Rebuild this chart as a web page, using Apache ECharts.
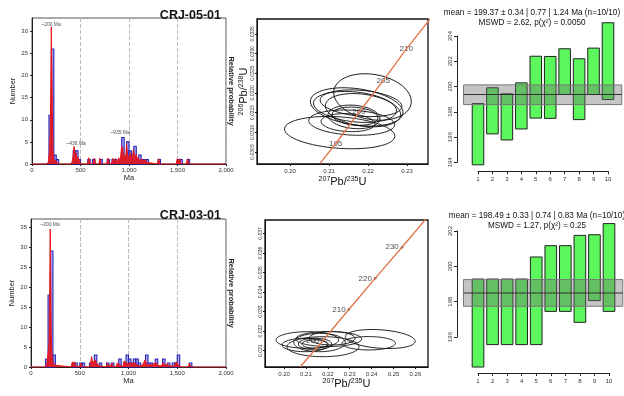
<!DOCTYPE html>
<html>
<head>
<meta charset="utf-8">
<script src="https://cdn.jsdelivr.net/npm/echarts@6/dist/echarts.min.js"></script>
<style>
  html, body { margin: 0; padding: 0; background: #fff; }
  #main { width: 624px; height: 396px; }
</style>
</head>
<body>
<div id="main"></div>
<script>
// ---- histogram data (Ma bins, 25 Ma wide) ----
var binWidth = 25;
var histTopBins = [[175,11],[200,26],[225,2],[250,1],[425,3],[450,3],[475,1],[575,1],[625,1],[700,1],[775,1],[825,1],[850,1],[900,1],[925,6],[950,1],[975,5],[1000,3],[1025,1],[1050,4],[1075,1],[1100,2],[1125,1],[1150,1],[1175,1],[1300,1],[1500,1],[1525,1],[1600,1]];
var histBotBins = [[150,2],[175,18],[200,29],[225,3],[425,1],[450,1],[500,1],[525,1],[600,1],[650,3],[700,1],[775,1],[825,1],[900,2],[950,1],[975,3],[1000,2],[1025,1],[1050,2],[1075,2],[1100,1],[1175,3],[1200,1],[1225,1],[1275,2],[1350,2],[1400,1],[1450,1],[1475,1],[1500,3],[1625,1]];
// relative probability curves (Ma, value)
var probTop = [[0,0],[150,0],[170,0.5],[180,3],[188,7],[194,18],[199,31],[205,22],[210,12],[216,3],[225,1],[240,1.3],[255,0.5],[270,0],[400,0],[415,0.6],[425,2],[433,4],[440,3],[447,1.5],[455,2.5],[462,1],[475,1.5],[490,0.5],[510,0],[570,0],[585,1.4],[600,0],[630,0],[642,1.3],[655,0],[690,0],[700,1.3],[712,0],[770,0],[783,1.3],[796,0],[820,0],[832,1.3],[845,0],[850,0],[862,1.3],[875,0],[895,1.4],[905,0.5],[915,2],[925,4],[935,3.5],[945,1.5],[955,2],[965,1.2],[975,4.6],[985,2],[995,1.2],[1005,1.5],[1015,2.5],[1025,1],[1035,1.5],[1045,3.2],[1055,2],[1065,1.5],[1075,2.2],[1085,1],[1095,1.5],[1105,0.8],[1115,1.1],[1125,0.5],[1135,1.1],[1150,0.5],[1165,1],[1180,0.4],[1195,0],[1290,0],[1305,1.2],[1318,0],[1485,0],[1498,1.2],[1510,0.4],[1523,1.2],[1536,0],[1590,0],[1605,1.2],[1618,0],[2000,0]];
var probBot = [[0,0],[150,0],[165,1],[175,0.5],[185,6],[192,20],[197,34.5],[203,20],[208,8],[215,3],[222,1.5],[235,0.5],[250,0],[410,0],[425,1.3],[435,0.5],[445,1.3],[458,0.3],[470,0],[500,0],[512,1],[525,0],[600,0],[612,1],[622,2.6],[632,1],[645,1.5],[660,1.8],[672,0.8],[690,1.2],[705,0.3],[720,0],[770,0],[785,0.9],[800,0],[815,0],[830,0.9],[845,0],[870,0],[885,1],[900,1.5],[912,0.5],[940,0],[955,1.5],[970,2],[980,1],[995,1.3],[1005,0.6],[1015,1.2],[1030,0.5],[1045,1.1],[1060,1.4],[1075,0.8],[1085,1.1],[1100,0.3],[1115,0.6],[1130,0.2],[1150,0.8],[1170,1.8],[1185,0.8],[1200,1],[1215,0.5],[1230,0.8],[1250,0.6],[1265,0.3],[1280,1.2],[1300,0.4],[1320,0],[1340,0.3],[1355,1.1],[1370,0.3],[1400,0.8],[1415,0.2],[1440,0.3],[1455,0.8],[1470,0.2],[1490,1.3],[1505,1.2],[1520,0.3],[1545,0],[1610,0],[1625,0.9],[1640,0],[2000,0]];
var peakTop = [['~200 Ma',196,31.6],['~436 Ma',454,4.7],['~935 Ma',907,7.2]];
var peakBot = [['~200 Ma',195,35.7]];

// ---- concordia data ----
var concTopLine = [[0.2077,0.03021],[0.2117,0.03071],[0.2177,0.03151],[0.2239,0.03231],[0.2298,0.03311],[0.2362,0.03391]];
var concTopAges = [[0.2117,0.03071,195],[0.2177,0.03151,200],[0.2239,0.03231,205],[0.2298,0.03311,210]];
var concBotLine = [[0.2074,0.03018],[0.2177,0.03151],[0.2296,0.03311],[0.2416,0.03470],[0.2539,0.03629],[0.2660,0.03790]];
var concBotAges = [[0.2177,0.03151,200],[0.2296,0.03311,210],[0.2416,0.03470,220],[0.2539,0.03629,230]];
// ellipses: x, y, semi-axis x, semi-axis y, tilt (deg, anticlockwise)
var ellTop = [
  [0.21274,0.030992,0.01418,0.000399,4],
  [0.22115,0.031896,0.01005,0.000573,10],
  [0.21710,0.031644,0.01197,0.000462,8],
  [0.21667,0.031644,0.01069,0.000379,6],
  [0.21821,0.031737,0.01051,0.000328,5],
  [0.21872,0.031561,0.00974,0.000404,8],
  [0.21641,0.031391,0.00667,0.000295,5],
  [0.21667,0.031409,0.00590,0.000227,5],
  [0.21582,0.031245,0.01103,0.000316,3],
  [0.21487,0.031245,0.00692,0.000227,3]
];
var ellBot = [
  [0.21064,0.031547,0.01429,0.000425,0],
  [0.21621,0.031419,0.01178,0.000471,0],
  [0.20959,0.031292,0.01050,0.000343,0],
  [0.21781,0.031205,0.01644,0.000512,0],
  [0.21416,0.031343,0.00763,0.000297,0],
  [0.21416,0.031343,0.00594,0.000215,0],
  [0.22192,0.031634,0.01050,0.000343,0],
  [0.24397,0.031598,0.01598,0.000471,4],
  [0.23868,0.031379,0.01219,0.000343,0],
  [0.22041,0.031598,0.01507,0.000384,0]
];

// ---- weighted mean data (Ma) ----
var spotNo = [1,2,3,4,5,6,7,8,9,10];
var wmTopLow  = [193.8,196.25,195.77,196.64,197.5,197.48,199.37,197.38,199.37,198.97];
var wmTopHigh = [198.65,199.9,199.42,200.29,202.4,202.38,202.99,202.2,203.04,205.05];
var wmTopMean = [199.37,198.57,200.13]; // mean, band low, band high
var wmBotLow  = [194.3,195.57,195.57,195.57,195.57,197.45,197.45,196.83,198.06,197.45];
var wmBotHigh = [199.28,199.28,199.28,199.28,200.53,201.17,201.17,201.75,201.79,202.42];
var wmBotMean = [198.49,197.74,199.25];
var bandSpan = [0, 10.95];

var FONT = 'Liberation Sans';

function zip2(a, b, c) {
  return a.map(function (v, i) { return [v, b[i], c[i]]; });
}

function histBar(params, api) {
  var a = api.coord([api.value(0), 0]);
  var b = api.coord([api.value(0) + binWidth, api.value(1)]);
  return {
    type: 'rect',
    shape: { x: a[0], y: b[1], width: b[0] - a[0], height: a[1] - b[1] },
    style: { fill: 'rgba(110,110,250,0.55)', stroke: '#2424b4', lineWidth: 1.1 }
  };
}

function ellipseItem(params, api) {
  var c = api.coord([api.value(0), api.value(1)]);
  var s = api.size([api.value(2), api.value(3)]);
  return {
    type: 'ellipse',
    shape: { cx: 0, cy: 0, rx: s[0], ry: s[1] },
    x: c[0], y: c[1],
    rotation: -api.value(4) * Math.PI / 180,
    style: { fill: 'none', stroke: '#111', lineWidth: 0.9 }
  };
}

function wmBar(params, api) {
  var a = api.coord([api.value(0) - 0.4, api.value(2)]);
  var b = api.coord([api.value(0) + 0.4, api.value(1)]);
  return {
    type: 'rect',
    shape: { x: a[0], y: a[1], width: b[0] - a[0], height: b[1] - a[1] },
    style: { fill: '#5cf75c', stroke: '#222', lineWidth: 1 }
  };
}

function wmBand(params, api) {
  var a = api.coord([api.value(0), api.value(4)]);
  var b = api.coord([api.value(1), api.value(3)]);
  var m = api.coord([api.value(0), api.value(2)]);
  return {
    type: 'group',
    children: [
      { type: 'rect', shape: { x: a[0], y: a[1], width: b[0] - a[0], height: b[1] - a[1] },
        style: { fill: 'rgba(110,110,110,0.4)', stroke: '#777', lineWidth: 1 } },
      { type: 'line', shape: { x1: m[0], y1: m[1], x2: b[0], y2: m[1] },
        style: { stroke: '#333', lineWidth: 1.2 } }
    ]
  };
}

var smallLbl = { fontSize: 6, color: '#333', fontFamily: FONT };
var supRich = {
  s: { fontSize: 7, verticalAlign: 'top', lineHeight: 8, fontFamily: FONT, color: '#111' },
  n: { fontSize: 11, lineHeight: 12, fontFamily: FONT, color: '#111' }
};

function histX(grid) {
  return {
    gridIndex: grid, type: 'value', min: 0, max: 2000, interval: 500,
    name: 'Ma', nameLocation: 'middle', nameGap: 9,
    nameTextStyle: { fontSize: 7.5, color: '#222', fontFamily: FONT },
    axisLine: { lineStyle: { color: '#222' } },
    axisTick: { length: 2, lineStyle: { color: '#222' } },
    axisLabel: Object.assign({ margin: 3 }, smallLbl),
    splitLine: { show: true, lineStyle: { type: 'dashed', color: '#bbb' } }
  };
}
function histY(grid, max) {
  return {
    gridIndex: grid, type: 'value', min: 0, max: max, interval: 5,
    name: 'Number', nameLocation: 'middle', nameGap: 11,
    nameTextStyle: { fontSize: 7.5, color: '#222', fontFamily: FONT },
    axisLine: { show: true, lineStyle: { color: '#222' } },
    axisTick: { show: true, length: 2, lineStyle: { color: '#222' } },
    axisLabel: Object.assign({ margin: 4, showMaxLabel: false }, smallLbl),
    splitLine: { show: false }
  };
}
function probY(grid) {
  return {
    gridIndex: grid, type: 'value', position: 'right', min: 0, max: 1,
    name: 'Relative probability', nameLocation: 'middle', nameGap: 1, nameRotate: -90,
    nameTextStyle: { fontSize: 7.5, fontWeight: 'bold', color: '#222', fontFamily: FONT },
    axisLine: { show: false }, axisTick: { show: false }, axisLabel: { show: false },
    splitLine: { show: false }
  };
}
function concX(grid, min, max, split, gap) {
  return {
    gridIndex: grid, type: 'value', min: min, max: max, splitNumber: split,
    name: '{s|207}{n|Pb/}{s|235}{n|U}', nameLocation: 'middle', nameGap: gap,
    nameTextStyle: { rich: supRich },
    axisLine: { lineStyle: { color: '#111' } },
    axisTick: { length: 2, lineStyle: { color: '#111' } },
    axisLabel: Object.assign({ margin: 4, showMinLabel: false, showMaxLabel: false,
      formatter: function (v) { return v.toFixed(2); } }, smallLbl),
    splitLine: { show: false }
  };
}
function concY(grid, min, max, split, digits, named) {
  return {
    gridIndex: grid, type: 'value', min: min, max: max, splitNumber: split,
    name: named ? '{s|206}{n|Pb/}{s|238}{n|U}' : '', nameLocation: 'middle', nameGap: 5,
    nameTextStyle: { rich: supRich },
    axisLine: { show: true, lineStyle: { color: '#111' } },
    axisTick: { show: true, length: 2, lineStyle: { color: '#111' } },
    axisLabel: { margin: 2, rotate: 90, showMinLabel: false, showMaxLabel: false,
      fontSize: 5, color: '#333', fontFamily: FONT,
      formatter: function (v) { return v.toFixed(digits); } },
    splitLine: { show: false }
  };
}
function wmX(grid, offset) {
  return {
    gridIndex: grid, type: 'value', min: 1, max: 10, interval: 1, offset: offset,
    axisLine: { lineStyle: { color: '#222' } },
    axisTick: { length: 3, lineStyle: { color: '#222' } },
    axisLabel: Object.assign({ margin: 5 }, smallLbl),
    splitLine: { show: false }
  };
}
function wmY(grid, min, max) {
  return {
    gridIndex: grid, type: 'value', min: min, max: max, interval: 2, offset: 21,
    axisLine: { show: true, lineStyle: { color: '#222' } },
    axisTick: { show: true, length: 3, lineStyle: { color: '#222' } },
    axisLabel: Object.assign({ margin: 4, rotate: 90 }, smallLbl),
    splitLine: { show: false }
  };
}

var chart = echarts.init(document.getElementById('main'));
chart.setOption({
  animation: false,
  backgroundColor: '#fff',
  title: [
    { text: 'CRJ-05-01', right: 398, top: 4, textStyle: { fontSize: 12.5, fontWeight: 'bold', color: '#111', fontFamily: FONT } },
    { text: 'CRJ-03-01', right: 398, top: 204, textStyle: { fontSize: 12.5, fontWeight: 'bold', color: '#111', fontFamily: FONT } },
    { text: 'mean = 199.37 ± 0.34 | 0.77 | 1.24 Ma (n=10/10)\nMSWD = 2.62, p(χ²) = 0.0050', left: 527, top: 3, textAlign: 'center',
      textStyle: { fontSize: 8.2, fontWeight: 'normal', lineHeight: 10, color: '#111', fontFamily: FONT } },
    { text: 'mean = 198.49 ± 0.33 | 0.74 | 0.83 Ma (n=10/10)\nMSWD = 1.27, p(χ²) = 0.25', left: 532, top: 206, textAlign: 'center',
      textStyle: { fontSize: 8.2, fontWeight: 'normal', lineHeight: 10, color: '#111', fontFamily: FONT } }
  ],
  grid: [
    { left: 32, top: 18, width: 194, height: 146, show: true, borderColor: '#555', borderWidth: 1 },
    { left: 257, top: 19, width: 171, height: 145, show: true, borderColor: '#111', borderWidth: 1.3 },
    { left: 478, top: 36, width: 130, height: 126.3 },
    { left: 31, top: 219, width: 195, height: 148, show: true, borderColor: '#555', borderWidth: 1 },
    { left: 265, top: 220, width: 163, height: 147, show: true, borderColor: '#111', borderWidth: 1.3 },
    { left: 478, top: 231, width: 131, height: 106 }
  ],
  xAxis: [
    histX(0),
    concX(1, 0.19154, 0.23538, 5, 12),
    wmX(2, 9),
    histX(3),
    concX(4, 0.19132, 0.26575, 7, 11),
    wmX(5, 36)
  ],
  yAxis: [
    histY(0, 33),
    probY(0),
    concY(1, 0.030195, 0.033876, 7, 4, true),
    wmY(2, 194, 204),
    histY(3, 37),
    probY(3),
    concY(4, 0.030166, 0.037686, 7, 3, false),
    wmY(5, 196, 202)
  ],
  series: [
    // top histogram
    { type: 'custom', xAxisIndex: 0, yAxisIndex: 0, renderItem: histBar, data: histTopBins },
    { type: 'line', xAxisIndex: 0, yAxisIndex: 0, data: probTop, symbol: 'none',
      lineStyle: { color: '#e8161b', width: 1 }, areaStyle: { color: '#e8161b', opacity: 0.9 } },
    { type: 'scatter', xAxisIndex: 0, yAxisIndex: 0, symbolSize: 0,
      data: peakTop.map(function (p) { return { name: p[0], value: [p[1], p[2]] }; }),
      label: { show: true, position: 'inside', formatter: '{b}', fontSize: 5, color: '#222', fontFamily: FONT } },
    // top concordia
    { type: 'custom', xAxisIndex: 1, yAxisIndex: 2, renderItem: ellipseItem, data: ellTop, clip: true },
    { type: 'line', xAxisIndex: 1, yAxisIndex: 2, data: concTopLine, symbol: 'none',
      lineStyle: { color: '#e2774f', width: 1.4 } },
    { type: 'scatter', xAxisIndex: 1, yAxisIndex: 2, symbolSize: 0, data: concTopAges,
      label: { show: true, position: 'inside', formatter: function (p) { return p.value[2]; },
        fontSize: 8, color: '#222', fontFamily: FONT } },
    // top weighted mean
    { type: 'custom', xAxisIndex: 2, yAxisIndex: 3, renderItem: wmBar, data: zip2(spotNo, wmTopLow, wmTopHigh) },
    { type: 'custom', xAxisIndex: 2, yAxisIndex: 3, renderItem: wmBand,
      data: [[bandSpan[0], bandSpan[1], wmTopMean[0], wmTopMean[1], wmTopMean[2]]] },
    // bottom histogram
    { type: 'custom', xAxisIndex: 3, yAxisIndex: 4, renderItem: histBar, data: histBotBins },
    { type: 'line', xAxisIndex: 3, yAxisIndex: 4, data: probBot, symbol: 'none',
      lineStyle: { color: '#e8161b', width: 1 }, areaStyle: { color: '#e8161b', opacity: 0.9 } },
    { type: 'scatter', xAxisIndex: 3, yAxisIndex: 4, symbolSize: 0,
      data: peakBot.map(function (p) { return { name: p[0], value: [p[1], p[2]] }; }),
      label: { show: true, position: 'inside', formatter: '{b}', fontSize: 5, color: '#222', fontFamily: FONT } },
    // bottom concordia
    { type: 'custom', xAxisIndex: 4, yAxisIndex: 6, renderItem: ellipseItem, data: ellBot, clip: true },
    { type: 'line', xAxisIndex: 4, yAxisIndex: 6, data: concBotLine, symbol: 'none',
      lineStyle: { color: '#e2774f', width: 1.4 } },
    { type: 'scatter', xAxisIndex: 4, yAxisIndex: 6, symbolSize: 2.5, itemStyle: { color: '#111' }, data: concBotAges,
      label: { show: true, position: 'left', distance: 2, formatter: function (p) { return p.value[2]; },
        fontSize: 8, color: '#222', fontFamily: FONT } },
    // bottom weighted mean
    { type: 'custom', xAxisIndex: 5, yAxisIndex: 7, renderItem: wmBar, data: zip2(spotNo, wmBotLow, wmBotHigh) },
    { type: 'custom', xAxisIndex: 5, yAxisIndex: 7, renderItem: wmBand,
      data: [[bandSpan[0], bandSpan[1], wmBotMean[0], wmBotMean[1], wmBotMean[2]]] }
  ]
});
</script>
</body>
</html>
